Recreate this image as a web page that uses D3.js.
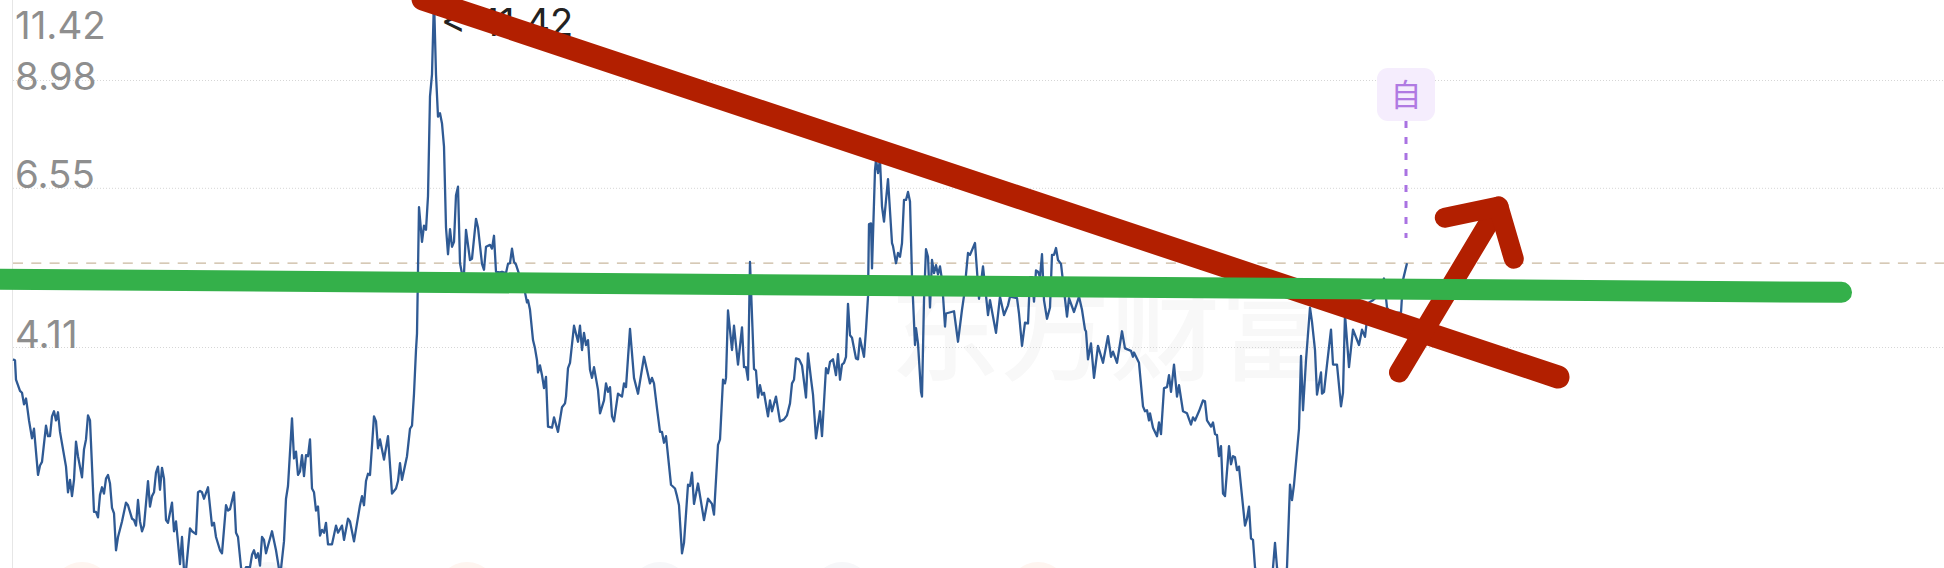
<!DOCTYPE html>
<html><head><meta charset="utf-8">
<style>html,body{margin:0;padding:0;background:#fff;overflow:hidden}svg{display:block}</style>
<script src="https://cdn.jsdelivr.net/npm/d3@7/dist/d3.min.js"></script>
</head><body><svg id="chart" width="1944" height="568"></svg>
<script>
// [trading-day index, price]
const pricePoints = [
[0,3.97],[2,3.96],[3,3.74],[7,3.62],[9,3.60],[11,3.48],[13,3.54],[14,3.47],[16,3.32],[19,3.15],[21,3.24],[25,2.83],[27,2.91],[29,2.94],[33,3.27],[35,3.17],[37,3.17],[39,3.36],[41,3.41],[43,3.32],[45,3.40],[47,3.21],[53,2.90],[55,2.69],[57,2.79],[59,2.66],[61,2.79],[63,3.12],[65,2.99],[69,2.81],[71,3.05],[73,3.14],[75,3.37],[77,3.32],[81,2.54],[83,2.54],[85,2.50],[87,2.67],[89,2.73],[91,2.68],[93,2.80],[95,2.83],[97,2.76],[99,2.57],[101,2.53],[103,2.27],[105,2.36],[109,2.47],[113,2.61],[115,2.59],[119,2.49],[121,2.48],[123,2.44],[125,2.63],[127,2.47],[129,2.40],[131,2.44],[135,2.78],[137,2.58],[139,2.66],[141,2.69],[143,2.85],[145,2.90],[147,2.71],[149,2.89],[151,2.80],[153,2.48],[155,2.46],[159,2.61],[161,2.40],[163,2.47],[167,2.18],[169,2.36],[171,2.14],[173,2.14],[177,2.42],[179,2.40],[183,2.38],[185,2.69],[187,2.70],[189,2.69],[191,2.64],[195,2.73],[199,2.44],[201,2.46],[203,2.36],[207,2.27],[209,2.25],[213,2.59],[215,2.55],[217,2.56],
[221,2.69],[223,2.39],[225,2.36],[228,2.16],[230,2.11],[233,2.16],[237,2.16],[239,2.24],[241,2.27],[243,2.22],[245,2.25],[247,2.17],[249,2.36],[251,2.34],[253,2.25],[255,2.30],[259,2.40],[263,2.27],[266,2.15],[268,2.15],[271,2.33],[273,2.64],[275,2.74],[279,3.34],[281,2.97],[283,3.03],[285,2.83],[287,2.86],[289,3.00],[291,2.82],[293,3.00],[295,2.99],[297,3.14],[299,2.72],[301,2.69],[303,2.55],[305,2.58],[307,2.37],[309,2.41],[311,2.39],[313,2.46],[315,2.31],[319,2.31],[323,2.44],[325,2.39],[329,2.44],[331,2.34],[335,2.49],[337,2.47],[341,2.33],[347,2.59],[349,2.66],[351,2.59],[353,2.78],[355,2.84],[357,2.83],[361,3.36],[363,3.31],[365,3.06],[367,3.14],[371,2.96],[375,3.17],[379,2.68],[383,2.72],[385,2.78],[387,2.93],[389,2.79],[394,2.99],[397,3.24],[399,3.27],[401,3.59],[403,4.08],
[404,4.28],[406,6.20],[409,5.60],[411,5.87],[413,5.80],[415,6.40],[417,8.57],[419,9.14],[421,11.42],[423,9.14],[425,8.08],[427,8.16],[429,7.92],[431,7.40],[433,5.84],[435,5.40],[437,5.81],[439,5.52],[441,5.60],[443,6.42],[445,6.58],[447,5.26],[449,5.10],[451,5.10],[453,5.80],[457,5.31],[459,5.33],[463,5.99],[465,5.84],[469,5.25],[471,5.16],[473,5.52],[477,5.55],[479,5.49],[481,5.70],[483,5.13],[487,5.12],[489,5.13],[493,5.11],[495,5.25],[497,5.26],[499,5.49],[501,5.28],[503,5.24],[506,5.10],[512,4.83],[514,4.69],[515,4.72],[517,4.59],[520,4.20],
[522,4.10],[524,3.96],[525,3.82],[527,3.90],[529,3.79],[531,3.65],[533,3.77],[535,3.26],[539,3.25],[541,3.35],[545,3.21],[549,3.45],[552,3.49],[553,3.56],[555,3.87],[557,3.93],[561,4.38],[565,4.18],[567,4.38],[569,4.08],[571,4.29],[573,4.14],[575,4.20],[577,3.85],[579,3.76],[581,3.88],[585,3.63],[587,3.39],[591,3.52],[593,3.70],[595,3.61],[597,3.66],[599,3.36],[601,3.31],[605,3.59],[609,3.56],[611,3.70],[613,3.66],[617,4.34],[621,3.76],[625,3.59],[631,4.00],[637,3.70],[639,3.76],[641,3.70],[644,3.44],[647,3.21],[649,3.21],[651,3.11],[653,3.17],[658,2.75],[662,2.72],[664,2.66],[666,2.59],[669,2.25],[671,2.32],[675,2.75],[677,2.74],[679,2.85],[681,2.60],[685,2.76],[691,2.48],[695,2.64],[699,2.60],[701,2.52],[705,3.09],[707,3.14],[710,3.74],[712,3.70],[713,3.76],[715,4.58],[719,4.08],[721,4.38],[725,3.91],[729,4.36],[731,3.88],[733,3.88],[735,3.74],[737,5.28],[741,3.86],[743,3.84],[745,3.55],[747,3.68],[749,3.58],[751,3.60],[755,3.36],[757,3.52],[759,3.41],[763,3.56],[767,3.31],[771,3.33],[774,3.37],[777,3.49],[779,3.70],[781,3.74],[783,3.98],[786,3.97],[789,3.90],[793,3.55],[795,4.04],[798,3.75],[800,3.58],[803,3.15],[807,3.41],[809,3.17],[813,3.87],[815,3.81],[817,3.94],[820,3.97],[823,3.79],[825,4.03],[827,3.74],[829,3.91],[831,3.93],[833,4.00],[835,4.67],[837,4.26],[839,4.23],[843,3.98],[845,3.97],[847,4.22],[851,4.00],[853,4.33],[855,4.77],[856,5.90],[858,5.91],[859,5.18],[862,6.91],[863,7.12],[865,6.85],[867,7.12],[869,6.21],[871,5.94],[875,6.73],[879,5.58],[880,5.53],[883,5.26],[885,5.42],[887,5.36],[889,5.58],[891,6.33],[893,6.33],[895,6.48],[897,6.30],[899,5.06],[902,4.14],[903,4.35],[905,4.16],[908,3.61],[909,3.56],[911,4.72],[913,5.48],[915,5.36],[917,4.62],[919,5.31],[921,5.11],[923,5.23],[925,5.09],[927,5.21],[929,5.01],[932,4.37],[933,4.54],[941,4.57],[945,4.18],[949,4.59],[951,4.78],[955,5.42],[957,5.39],[962,5.58],[966,4.74],[970,5.21],[975,4.52],[977,4.72],[983,4.29],[987,4.77],[991,4.52],[995,4.65],[997,4.77],[1004,4.75],[1006,4.54],[1009,4.13],[1012,4.42],[1015,4.41],[1017,5.05],[1019,5.05],[1021,4.70],[1023,5.15],[1025,5.13],[1027,5.05],[1029,5.40],[1031,4.72],[1034,4.47],[1037,4.62],[1039,5.39],[1041,5.39],[1043,5.50],[1045,5.31],[1048,5.25],[1054,4.50],[1056,4.75],[1061,4.56],[1066,4.77],[1069,4.59],[1072,4.33],[1073,4.31],[1075,3.97],[1078,4.16],[1081,3.76],[1085,4.13],[1090,3.93],[1095,4.25],[1098,4.00],[1100,4.06],[1104,3.93],[1109,4.31],[1112,4.10],[1118,4.07],[1120,4.00],[1121,4.05],[1126,3.93],[1130,3.46],[1132,3.41],[1134,3.42],[1136,3.32],[1137,3.39],[1140,3.25],[1144,3.17],[1146,3.30],[1148,3.19],[1151,3.65],[1154,3.66],[1156,3.79],[1158,3.61],[1161,3.91],[1164,3.56],[1166,3.68],[1170,3.41],[1174,3.39],[1178,3.28],[1180,3.35],[1182,3.32],[1186,3.41],[1190,3.52],[1192,3.51],[1194,3.32],[1198,3.26],[1200,3.30],[1202,3.19],[1204,3.18],[1206,2.99],[1208,3.08],[1210,2.68],[1212,2.66],[1216,3.08],[1218,2.92],[1220,2.99],[1222,2.98],[1224,2.87],[1226,2.90],[1232,2.44],[1234,2.49],[1236,2.58],[1238,2.35],[1240,2.34],[1242,2.16],[1245,2.05],[1259,2.08],[1262,2.32],[1264,2.16],[1267,2.02],[1271,2.02],[1274,2.16],[1277,2.75],[1279,2.63],[1281,2.75],[1286,3.24],[1288,4.01],[1290,3.42],[1293,3.96],[1297,4.62],[1299,4.43],[1302,4.08],[1304,3.58],[1308,3.82],[1309,3.59],[1311,3.61],[1314,3.91],[1318,4.33],[1320,3.91],[1324,3.91],[1328,3.46],[1330,3.60],[1332,4.53],[1336,3.88],[1340,4.33],[1346,4.14],[1349,4.33],[1352,4.24],[1356,4.69],[1360,4.72],[1364,4.77],[1371,5.03],[1374,4.62],[1377,4.55],[1385,4.55],[1388,4.55],[1390,5.01],[1394,5.26]
];
const tickValues = [11.42, 8.98, 6.55, 4.11];
const tickLabels = ["11.42", "8.98", "6.55", "4.11"];
const lastClose = 5.26;
const peakLabel = "<-11.42";
const markerDay = 1393, markerGlyph = "自";
const watermark = "东方财富";
const redTrend = [[410, 11.40], [1545, 3.77]];
const greenLevel = [[-23, 5.02], [1828.5, 4.83]];
const arrowShaft = [[1386, 3.82], [1485.5, 6.21]];
const arrowHead = [[1431.8, 6.01], [1485.5, 6.21], [1500.8, 5.33]];
const footDots = [[69,"#fef5f0"],[256,"#f6f7f9"],[454,"#fef5f0"],[647,"#f6f7f9"],[829,"#f6f7f9"],[1025,"#fef5f0"]];

const W = 1944, H = 568;
const x = d3.scaleLinear().domain([0, 1393.7]).range([13, 1406.7]);
const y = d3.scaleLog().domain([4.11, 11.42]).range([347.5, -1.6]);
const labelShift = [40.6, 9.6, 0, 0];
const svg = d3.select("#chart");
const line = d3.line().x(d => x(d[0])).y(d => y(d[1]));

// faint footer dots and watermark
svg.selectAll("circle.foot").data(footDots).join("circle").attr("class","foot")
  .attr("cx", d => x(d[0])).attr("cy", H + 24).attr("r", 30).attr("fill", d => d[1]);
svg.append("text").text(watermark).attr("x", 890).attr("y", 372)
  .attr("font-family","'Noto Sans CJK SC'").attr("font-size",110).attr("font-weight",500).attr("fill","#f8f8f8");

// axis + grid
svg.append("line").attr("x1",12.5).attr("x2",12.5).attr("y1",0).attr("y2",H).attr("stroke","#e6e6e6").attr("stroke-width",1);
svg.selectAll("line.grid").data(tickValues).join("line").attr("class","grid")
  .attr("x1",13).attr("x2",W).attr("y1",d=>y(d)).attr("y2",d=>y(d))
  .attr("stroke","#d6d6d6").attr("stroke-width",1).attr("stroke-dasharray","1 2");
svg.selectAll("text.tick").data(tickLabels).join("text").attr("class","tick")
  .text(d=>d).attr("x",15).attr("y",(d,i)=>y(tickValues[i])+labelShift[i])
  .attr("font-family","Inter").attr("font-size",38.5).attr("fill","#8e8e8e");
svg.append("line").attr("x1",13).attr("x2",W).attr("y1",y(lastClose)).attr("y2",y(lastClose))
  .attr("stroke","#c9b89e").attr("stroke-width",1.2).attr("stroke-dasharray","10 8.3");

// price
svg.append("path").datum(pricePoints).attr("d",line).attr("fill","none")
  .attr("stroke","#2f5a94").attr("stroke-width",2.3).attr("stroke-linejoin","round");
svg.append("text").text(peakLabel).attr("x",441).attr("y",36)
  .attr("font-family","Inter").attr("font-size",38).attr("fill","#222");

// marker
const mx = x(markerDay);
svg.append("line").attr("x1",mx).attr("x2",mx).attr("y1",121).attr("y2",238)
  .attr("stroke","#a972e2").attr("stroke-width",3).attr("stroke-dasharray","7 9");
svg.append("rect").attr("x",mx-29).attr("y",68).attr("width",58).attr("height",53).attr("rx",11)
  .attr("fill","#f5edfd");
svg.append("text").text(markerGlyph).attr("x",mx).attr("y",106).attr("text-anchor","middle")
  .attr("font-family","'Noto Sans CJK SC'").attr("font-size",31).attr("fill","#b07ae2");

// hand-drawn marks
const pen = (pts,col,w)=>svg.append("path").datum(pts).attr("d",line).attr("fill","none")
  .attr("stroke",col).attr("stroke-width",w).attr("stroke-linecap","round").attr("stroke-linejoin","round");
pen(redTrend,"#b21f00",23);
pen(arrowShaft,"#b21f00",20);
pen(arrowHead,"#b21f00",20);
pen(greenLevel,"#34b04a",21);
</script></body></html>
